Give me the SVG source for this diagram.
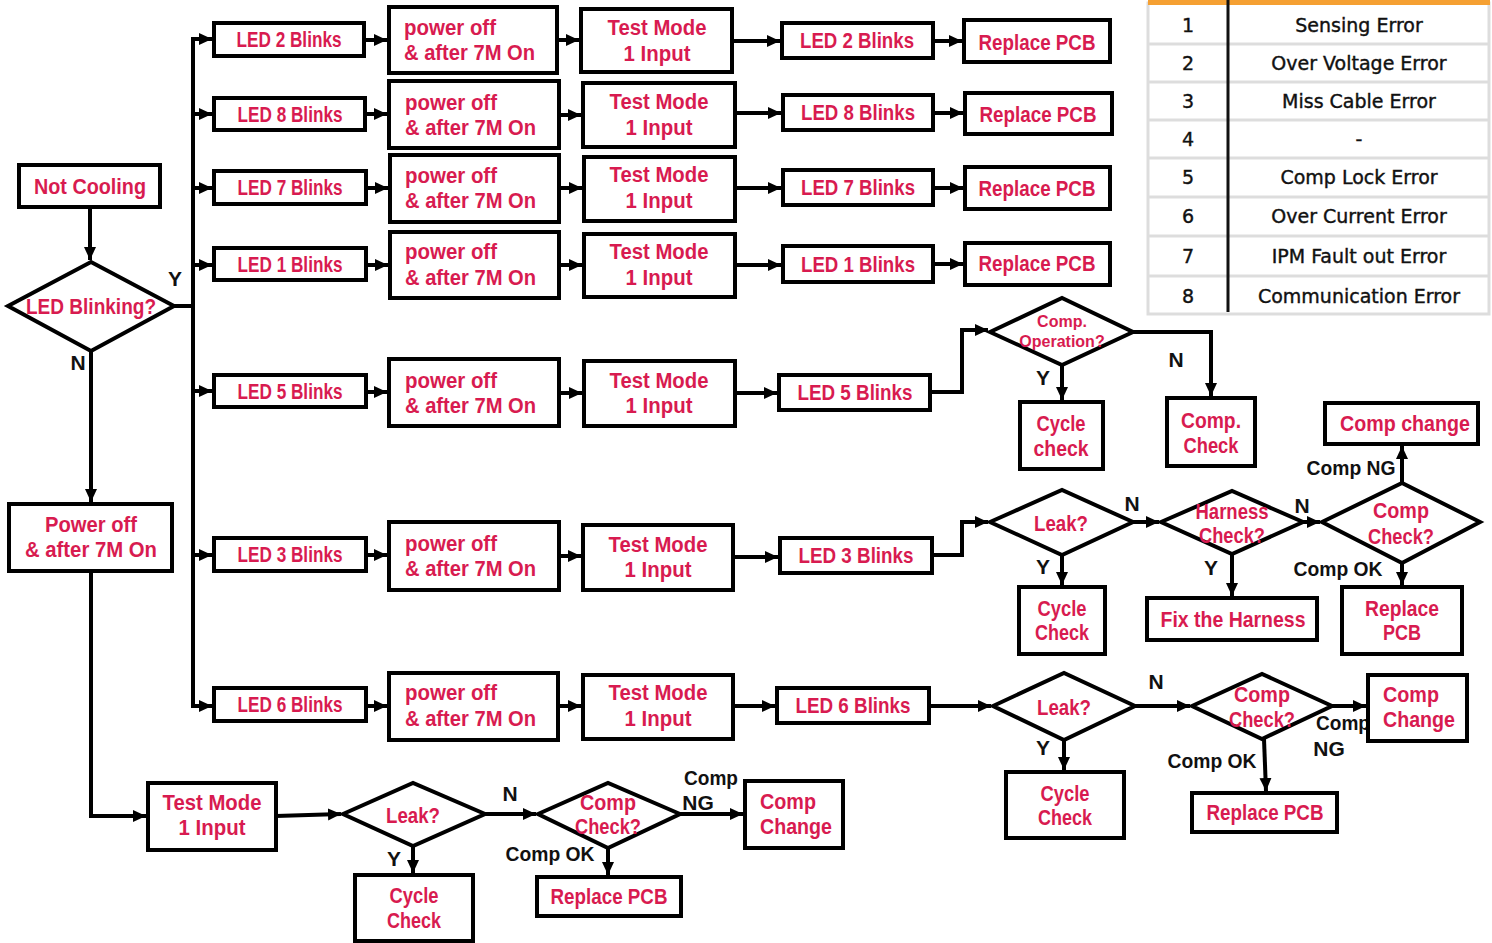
<svg xmlns="http://www.w3.org/2000/svg" width="1492" height="943" viewBox="0 0 1492 943">
<style>
.b{fill:#fff;stroke:#000;stroke-width:4}
.d{fill:#fff;stroke:#000;stroke-width:4;stroke-linejoin:miter}
.c{fill:none;stroke:#000;stroke-width:4}
.t{font-family:"Liberation Sans",Arial,sans-serif;font-weight:bold;font-size:22px;fill:#D81B50;text-anchor:middle}
.tl{text-anchor:start}
.tx{font-size:16px}
.l{font-family:"Liberation Sans",Arial,sans-serif;font-weight:bold;font-size:21px;fill:#111;text-anchor:middle}
.tb{font-family:"DejaVu Sans",Verdana,sans-serif;font-size:19px;fill:#111;stroke:#111;stroke-width:0.4;text-anchor:middle}
.g{stroke:#ddd;stroke-width:3;fill:none}
</style>
<defs>
<marker id="ah" markerWidth="14" markerHeight="14" refX="13" refY="7" orient="auto" markerUnits="userSpaceOnUse"><path d="M0,1 L13,7 L0,13 z" fill="#000"/></marker>
</defs>

<g id="legend-table">
<rect x="1148" y="3" width="341" height="311" class="g"/>
<rect x="1148" y="0" width="342" height="5" fill="#F5A032"/>
<path class="g" d="M1148,44H1490M1148,82H1490M1148,120H1490M1148,158H1490M1148,197H1490M1148,236H1490M1148,276H1490"/>
<line x1="1228" y1="0" x2="1228" y2="312" stroke="#111" stroke-width="3"/>
<text class="tb" x="1188" y="32">1</text><text class="tb" x="1359" y="32">Sensing Error</text>
<text class="tb" x="1188" y="70">2</text><text class="tb" x="1359" y="70">Over Voltage Error</text>
<text class="tb" x="1188" y="108">3</text><text class="tb" x="1359" y="108">Miss Cable Error</text>
<text class="tb" x="1188" y="146">4</text><text class="tb" x="1359" y="146">-</text>
<text class="tb" x="1188" y="184">5</text><text class="tb" x="1359" y="184">Comp Lock Error</text>
<text class="tb" x="1188" y="223">6</text><text class="tb" x="1359" y="223">Over Current Error</text>
<text class="tb" x="1188" y="263">7</text><text class="tb" x="1359" y="263">IPM Fault out Error</text>
<text class="tb" x="1188" y="303">8</text><text class="tb" x="1359" y="303">Communication Error</text>
</g>

<g id="connectors">
<path class="c" d="M90,207V260" marker-end="url(#ah)"/>
<path class="c" d="M91,351V502" marker-end="url(#ah)"/>
<path class="c" d="M91,571V816H146" marker-end="url(#ah)"/>
<path class="c" d="M174,306H193"/>
<path class="c" d="M193,39V706" stroke-linecap="square"/>
<path class="c" d="M193,39H212" marker-end="url(#ah)"/>
<path class="c" d="M193,114H212" marker-end="url(#ah)"/>
<path class="c" d="M193,188H212" marker-end="url(#ah)"/>
<path class="c" d="M193,265H212" marker-end="url(#ah)"/>
<path class="c" d="M193,391H212" marker-end="url(#ah)"/>
<path class="c" d="M193,555H212" marker-end="url(#ah)"/>
<path class="c" d="M193,706H212" marker-end="url(#ah)"/>
<path class="c" d="M364,40H387" marker-end="url(#ah)"/>
<path class="c" d="M557,40H579" marker-end="url(#ah)"/>
<path class="c" d="M732,41H780" marker-end="url(#ah)"/>
<path class="c" d="M933,41H962" marker-end="url(#ah)"/>
<path class="c" d="M365,114H387" marker-end="url(#ah)"/>
<path class="c" d="M559,115H581" marker-end="url(#ah)"/>
<path class="c" d="M735,113H781" marker-end="url(#ah)"/>
<path class="c" d="M933,113H963" marker-end="url(#ah)"/>
<path class="c" d="M366,188H388" marker-end="url(#ah)"/>
<path class="c" d="M559,188H582" marker-end="url(#ah)"/>
<path class="c" d="M735,188H781" marker-end="url(#ah)"/>
<path class="c" d="M933,188H963" marker-end="url(#ah)"/>
<path class="c" d="M366,265H388" marker-end="url(#ah)"/>
<path class="c" d="M559,265H582" marker-end="url(#ah)"/>
<path class="c" d="M735,265H781" marker-end="url(#ah)"/>
<path class="c" d="M933,264H963" marker-end="url(#ah)"/>
<path class="c" d="M366,392H387" marker-end="url(#ah)"/>
<path class="c" d="M559,393H582" marker-end="url(#ah)"/>
<path class="c" d="M735,393H777" marker-end="url(#ah)"/>
<path class="c" d="M930,392H962V330H988" marker-end="url(#ah)"/>
<path class="c" d="M1062,365V400" marker-end="url(#ah)"/>
<path class="c" d="M1133,332H1211V396" marker-end="url(#ah)"/>
<path class="c" d="M366,555H387" marker-end="url(#ah)"/>
<path class="c" d="M559,556H581" marker-end="url(#ah)"/>
<path class="c" d="M733,557H778" marker-end="url(#ah)"/>
<path class="c" d="M932,555H962V522H988" marker-end="url(#ah)"/>
<path class="c" d="M1062,555V585" marker-end="url(#ah)"/>
<path class="c" d="M1133,522H1159" marker-end="url(#ah)"/>
<path class="c" d="M1232,554V596" marker-end="url(#ah)"/>
<path class="c" d="M1303,522H1320" marker-end="url(#ah)"/>
<path class="c" d="M1402,483V446" marker-end="url(#ah)"/>
<path class="c" d="M1402,563V585" marker-end="url(#ah)"/>
<path class="c" d="M366,706H387" marker-end="url(#ah)"/>
<path class="c" d="M558,706H581" marker-end="url(#ah)"/>
<path class="c" d="M733,706H775" marker-end="url(#ah)"/>
<path class="c" d="M929,706H991" marker-end="url(#ah)"/>
<path class="c" d="M1064,740V770" marker-end="url(#ah)"/>
<path class="c" d="M1135,706H1190" marker-end="url(#ah)"/>
<path class="c" d="M1332,706H1366" marker-end="url(#ah)"/>
<path class="c" d="M1264,739L1266,791" marker-end="url(#ah)"/>
<path class="c" d="M276,816L341,814" marker-end="url(#ah)"/>
<path class="c" d="M413,846V873" marker-end="url(#ah)"/>
<path class="c" d="M485,814H536" marker-end="url(#ah)"/>
<path class="c" d="M680,814H743" marker-end="url(#ah)"/>
<path class="c" d="M608,848V875" marker-end="url(#ah)"/>
</g>

<g id="edge-labels">
<text class="l" x="175" y="286">Y</text>
<text class="l" x="78" y="370">N</text>
<text class="l" x="1043" y="385">Y</text>
<text class="l" x="1176" y="367">N</text>
<text class="l" x="1043" y="574">Y</text>
<text class="l" x="1132" y="511">N</text>
<text class="l" x="1211" y="575">Y</text>
<text class="l" x="1302" y="513">N</text>
<text class="l" x="1351" y="475" textLength="89" lengthAdjust="spacingAndGlyphs">Comp NG</text>
<text class="l" x="1338" y="576" textLength="89" lengthAdjust="spacingAndGlyphs">Comp OK</text>
<text class="l" x="1043" y="755">Y</text>
<text class="l" x="1156" y="689">N</text>
<text class="l" x="1212" y="768" textLength="89" lengthAdjust="spacingAndGlyphs">Comp OK</text>
<text class="l" x="1343" y="730" textLength="54" lengthAdjust="spacingAndGlyphs">Comp</text>
<text class="l" x="1329" y="756">NG</text>
<text class="l" x="394" y="866">Y</text>
<text class="l" x="510" y="801">N</text>
<text class="l" x="550" y="861" textLength="89" lengthAdjust="spacingAndGlyphs">Comp OK</text>
<text class="l" x="711" y="785" textLength="54" lengthAdjust="spacingAndGlyphs">Comp</text>
<text class="l" x="698" y="810">NG</text>
</g>

<g id="not-cooling"><rect class="b" x="19" y="165" width="141" height="42"/><text class="t" x="90" y="194" textLength="112" lengthAdjust="spacingAndGlyphs">Not Cooling</text></g>
<g id="led-blinking"><polygon class="d" points="8,306 91,262 174,306 91,351"/><text class="t" x="91" y="314" textLength="130" lengthAdjust="spacingAndGlyphs">LED Blinking?</text></g>
<g id="power-off-main"><rect class="b" x="9" y="504" width="163" height="67"/><text class="t" x="91" y="532" textLength="92" lengthAdjust="spacingAndGlyphs">Power off</text><text class="t" x="91" y="557" textLength="132" lengthAdjust="spacingAndGlyphs">&amp; after 7M On</text></g>

<g id="row1-led"><rect class="b" x="214" y="23" width="150" height="33"/><text class="t" x="289" y="47" textLength="105" lengthAdjust="spacingAndGlyphs">LED 2 Blinks</text></g>
<g id="row1-power"><rect class="b" x="389" y="7" width="168" height="66"/><text class="t tl" x="404" y="35" textLength="92" lengthAdjust="spacingAndGlyphs">power off</text><text class="t tl" x="404" y="60" textLength="131" lengthAdjust="spacingAndGlyphs">&amp; after 7M On</text></g>
<g id="row1-test"><rect class="b" x="581" y="9" width="151" height="63"/><text class="t" x="657" y="35" textLength="99" lengthAdjust="spacingAndGlyphs">Test Mode</text><text class="t" x="657" y="61" textLength="67" lengthAdjust="spacingAndGlyphs">1 Input</text></g>
<g id="row1-led2"><rect class="b" x="782" y="23" width="151" height="35"/><text class="t" x="857" y="48" textLength="114" lengthAdjust="spacingAndGlyphs">LED 2 Blinks</text></g>
<g id="row1-replace"><rect class="b" x="964" y="20" width="146" height="42"/><text class="t" x="1037" y="50" textLength="117" lengthAdjust="spacingAndGlyphs">Replace PCB</text></g>

<g id="row2-led"><rect class="b" x="214" y="98" width="151" height="32"/><text class="t" x="290" y="122" textLength="105" lengthAdjust="spacingAndGlyphs">LED 8 Blinks</text></g>
<g id="row2-power"><rect class="b" x="389" y="81" width="170" height="67"/><text class="t tl" x="405" y="110" textLength="92" lengthAdjust="spacingAndGlyphs">power off</text><text class="t tl" x="405" y="135" textLength="131" lengthAdjust="spacingAndGlyphs">&amp; after 7M On</text></g>
<g id="row2-test"><rect class="b" x="583" y="83" width="152" height="64"/><text class="t" x="659" y="109" textLength="99" lengthAdjust="spacingAndGlyphs">Test Mode</text><text class="t" x="659" y="135" textLength="67" lengthAdjust="spacingAndGlyphs">1 Input</text></g>
<g id="row2-led2"><rect class="b" x="783" y="95" width="150" height="35"/><text class="t" x="858" y="120" textLength="114" lengthAdjust="spacingAndGlyphs">LED 8 Blinks</text></g>
<g id="row2-replace"><rect class="b" x="965" y="93" width="147" height="41"/><text class="t" x="1038" y="122" textLength="117" lengthAdjust="spacingAndGlyphs">Replace PCB</text></g>

<g id="row3-led"><rect class="b" x="214" y="171" width="152" height="33"/><text class="t" x="290" y="195" textLength="105" lengthAdjust="spacingAndGlyphs">LED 7 Blinks</text></g>
<g id="row3-power"><rect class="b" x="390" y="155" width="169" height="67"/><text class="t tl" x="405" y="183" textLength="92" lengthAdjust="spacingAndGlyphs">power off</text><text class="t tl" x="405" y="208" textLength="131" lengthAdjust="spacingAndGlyphs">&amp; after 7M On</text></g>
<g id="row3-test"><rect class="b" x="584" y="157" width="151" height="64"/><text class="t" x="659" y="182" textLength="99" lengthAdjust="spacingAndGlyphs">Test Mode</text><text class="t" x="659" y="208" textLength="67" lengthAdjust="spacingAndGlyphs">1 Input</text></g>
<g id="row3-led2"><rect class="b" x="783" y="170" width="150" height="35"/><text class="t" x="858" y="195" textLength="114" lengthAdjust="spacingAndGlyphs">LED 7 Blinks</text></g>
<g id="row3-replace"><rect class="b" x="965" y="167" width="145" height="42"/><text class="t" x="1037" y="196" textLength="117" lengthAdjust="spacingAndGlyphs">Replace PCB</text></g>

<g id="row4-led"><rect class="b" x="214" y="248" width="152" height="32"/><text class="t" x="290" y="272" textLength="105" lengthAdjust="spacingAndGlyphs">LED 1 Blinks</text></g>
<g id="row4-power"><rect class="b" x="390" y="232" width="169" height="66"/><text class="t tl" x="405" y="259" textLength="92" lengthAdjust="spacingAndGlyphs">power off</text><text class="t tl" x="405" y="285" textLength="131" lengthAdjust="spacingAndGlyphs">&amp; after 7M On</text></g>
<g id="row4-test"><rect class="b" x="584" y="234" width="151" height="63"/><text class="t" x="659" y="259" textLength="99" lengthAdjust="spacingAndGlyphs">Test Mode</text><text class="t" x="659" y="285" textLength="67" lengthAdjust="spacingAndGlyphs">1 Input</text></g>
<g id="row4-led2"><rect class="b" x="783" y="246" width="150" height="36"/><text class="t" x="858" y="272" textLength="114" lengthAdjust="spacingAndGlyphs">LED 1 Blinks</text></g>
<g id="row4-replace"><rect class="b" x="965" y="243" width="145" height="42"/><text class="t" x="1037" y="271" textLength="117" lengthAdjust="spacingAndGlyphs">Replace PCB</text></g>

<g id="row5-led"><rect class="b" x="214" y="375" width="152" height="32"/><text class="t" x="290" y="399" textLength="105" lengthAdjust="spacingAndGlyphs">LED 5 Blinks</text></g>
<g id="row5-power"><rect class="b" x="389" y="359" width="170" height="67"/><text class="t tl" x="405" y="388" textLength="92" lengthAdjust="spacingAndGlyphs">power off</text><text class="t tl" x="405" y="413" textLength="131" lengthAdjust="spacingAndGlyphs">&amp; after 7M On</text></g>
<g id="row5-test"><rect class="b" x="584" y="361" width="151" height="65"/><text class="t" x="659" y="388" textLength="99" lengthAdjust="spacingAndGlyphs">Test Mode</text><text class="t" x="659" y="413" textLength="67" lengthAdjust="spacingAndGlyphs">1 Input</text></g>
<g id="row5-led2"><rect class="b" x="779" y="375" width="151" height="35"/><text class="t" x="855" y="400" textLength="115" lengthAdjust="spacingAndGlyphs">LED 5 Blinks</text></g>
<g id="comp-operation"><polygon class="d" points="990,332 1062,298 1133,332 1062,365"/><text class="t tx" x="1062" y="327">Comp.</text><text class="t tx" x="1062" y="347">Operation?</text></g>
<g id="cycle-check-1"><rect class="b" x="1020" y="402" width="83" height="67"/><text class="t" x="1061" y="431" textLength="49" lengthAdjust="spacingAndGlyphs">Cycle</text><text class="t" x="1061" y="456" textLength="55" lengthAdjust="spacingAndGlyphs">check</text></g>
<g id="comp-check-box"><rect class="b" x="1167" y="398" width="88" height="68"/><text class="t" x="1211" y="428" textLength="60" lengthAdjust="spacingAndGlyphs">Comp.</text><text class="t" x="1211" y="453" textLength="55" lengthAdjust="spacingAndGlyphs">Check</text></g>

<g id="row6-led"><rect class="b" x="214" y="538" width="152" height="33"/><text class="t" x="290" y="562" textLength="105" lengthAdjust="spacingAndGlyphs">LED 3 Blinks</text></g>
<g id="row6-power"><rect class="b" x="389" y="522" width="170" height="68"/><text class="t tl" x="405" y="551" textLength="92" lengthAdjust="spacingAndGlyphs">power off</text><text class="t tl" x="405" y="576" textLength="131" lengthAdjust="spacingAndGlyphs">&amp; after 7M On</text></g>
<g id="row6-test"><rect class="b" x="583" y="525" width="150" height="65"/><text class="t" x="658" y="552" textLength="99" lengthAdjust="spacingAndGlyphs">Test Mode</text><text class="t" x="658" y="577" textLength="67" lengthAdjust="spacingAndGlyphs">1 Input</text></g>
<g id="row6-led2"><rect class="b" x="780" y="538" width="152" height="35"/><text class="t" x="856" y="563" textLength="115" lengthAdjust="spacingAndGlyphs">LED 3 Blinks</text></g>
<g id="leak-1"><polygon class="d" points="990,522 1062,490 1133,522 1062,555"/><text class="t" x="1061" y="531" textLength="54" lengthAdjust="spacingAndGlyphs">Leak?</text></g>
<g id="cycle-check-2"><rect class="b" x="1019" y="587" width="86" height="67"/><text class="t" x="1062" y="616" textLength="49" lengthAdjust="spacingAndGlyphs">Cycle</text><text class="t" x="1062" y="640" textLength="54" lengthAdjust="spacingAndGlyphs">Check</text></g>
<g id="harness-check"><polygon class="d" points="1161,522 1232,491 1303,522 1232,554"/><text class="t" x="1232" y="519" textLength="73" lengthAdjust="spacingAndGlyphs">Harness</text><text class="t" x="1232" y="543" textLength="66" lengthAdjust="spacingAndGlyphs">Check?</text></g>
<g id="fix-harness"><rect class="b" x="1147" y="598" width="170" height="42"/><text class="t" x="1233" y="627" textLength="145" lengthAdjust="spacingAndGlyphs">Fix the Harness</text></g>
<g id="comp-check-1"><polygon class="d" points="1322,522 1402,483 1480,522 1402,563"/><text class="t" x="1401" y="518" textLength="56" lengthAdjust="spacingAndGlyphs">Comp</text><text class="t" x="1401" y="544" textLength="66" lengthAdjust="spacingAndGlyphs">Check?</text></g>
<g id="comp-change-1"><rect class="b" x="1325" y="403" width="153" height="41"/><text class="t" x="1405" y="431" textLength="130" lengthAdjust="spacingAndGlyphs">Comp change</text></g>
<g id="replace-pcb-2"><rect class="b" x="1342" y="587" width="120" height="67"/><text class="t" x="1402" y="616" textLength="74" lengthAdjust="spacingAndGlyphs">Replace</text><text class="t" x="1402" y="640" textLength="38" lengthAdjust="spacingAndGlyphs">PCB</text></g>

<g id="row7-led"><rect class="b" x="214" y="688" width="152" height="33"/><text class="t" x="290" y="712" textLength="105" lengthAdjust="spacingAndGlyphs">LED 6 Blinks</text></g>
<g id="row7-power"><rect class="b" x="389" y="673" width="169" height="67"/><text class="t tl" x="405" y="700" textLength="92" lengthAdjust="spacingAndGlyphs">power off</text><text class="t tl" x="405" y="726" textLength="131" lengthAdjust="spacingAndGlyphs">&amp; after 7M On</text></g>
<g id="row7-test"><rect class="b" x="583" y="675" width="150" height="64"/><text class="t" x="658" y="700" textLength="99" lengthAdjust="spacingAndGlyphs">Test Mode</text><text class="t" x="658" y="726" textLength="67" lengthAdjust="spacingAndGlyphs">1 Input</text></g>
<g id="row7-led2"><rect class="b" x="777" y="688" width="152" height="35"/><text class="t" x="853" y="713" textLength="115" lengthAdjust="spacingAndGlyphs">LED 6 Blinks</text></g>
<g id="leak-2"><polygon class="d" points="993,706 1064,673 1135,706 1064,740"/><text class="t" x="1064" y="715" textLength="54" lengthAdjust="spacingAndGlyphs">Leak?</text></g>
<g id="cycle-check-3"><rect class="b" x="1006" y="772" width="118" height="66"/><text class="t" x="1065" y="801" textLength="49" lengthAdjust="spacingAndGlyphs">Cycle</text><text class="t" x="1065" y="825" textLength="54" lengthAdjust="spacingAndGlyphs">Check</text></g>
<g id="comp-check-2"><polygon class="d" points="1192,706 1262,674 1332,706 1262,739"/><text class="t" x="1262" y="702" textLength="56" lengthAdjust="spacingAndGlyphs">Comp</text><text class="t" x="1262" y="727" textLength="66" lengthAdjust="spacingAndGlyphs">Check?</text></g>
<g id="comp-change-2"><rect class="b" x="1368" y="675" width="99" height="66"/><text class="t" x="1411" y="702" textLength="56" lengthAdjust="spacingAndGlyphs">Comp</text><text class="t" x="1419" y="727" textLength="72" lengthAdjust="spacingAndGlyphs">Change</text></g>
<g id="replace-pcb-3"><rect class="b" x="1192" y="793" width="145" height="39"/><text class="t" x="1265" y="820" textLength="117" lengthAdjust="spacingAndGlyphs">Replace PCB</text></g>

<g id="test-mode-bottom"><rect class="b" x="148" y="783" width="128" height="67"/><text class="t" x="212" y="810" textLength="99" lengthAdjust="spacingAndGlyphs">Test Mode</text><text class="t" x="212" y="835" textLength="67" lengthAdjust="spacingAndGlyphs">1 Input</text></g>
<g id="leak-3"><polygon class="d" points="343,814 413,783 485,814 413,846"/><text class="t" x="413" y="823" textLength="54" lengthAdjust="spacingAndGlyphs">Leak?</text></g>
<g id="cycle-check-4"><rect class="b" x="355" y="875" width="118" height="66"/><text class="t" x="414" y="903" textLength="49" lengthAdjust="spacingAndGlyphs">Cycle</text><text class="t" x="414" y="928" textLength="54" lengthAdjust="spacingAndGlyphs">Check</text></g>
<g id="comp-check-3"><polygon class="d" points="538,814 608,783 680,814 608,848"/><text class="t" x="608" y="810" textLength="56" lengthAdjust="spacingAndGlyphs">Comp</text><text class="t" x="608" y="834" textLength="66" lengthAdjust="spacingAndGlyphs">Check?</text></g>
<g id="comp-change-3"><rect class="b" x="745" y="781" width="98" height="67"/><text class="t" x="788" y="809" textLength="56" lengthAdjust="spacingAndGlyphs">Comp</text><text class="t" x="796" y="834" textLength="72" lengthAdjust="spacingAndGlyphs">Change</text></g>
<g id="replace-pcb-4"><rect class="b" x="537" y="877" width="144" height="39"/><text class="t" x="609" y="904" textLength="117" lengthAdjust="spacingAndGlyphs">Replace PCB</text></g>
</svg>
